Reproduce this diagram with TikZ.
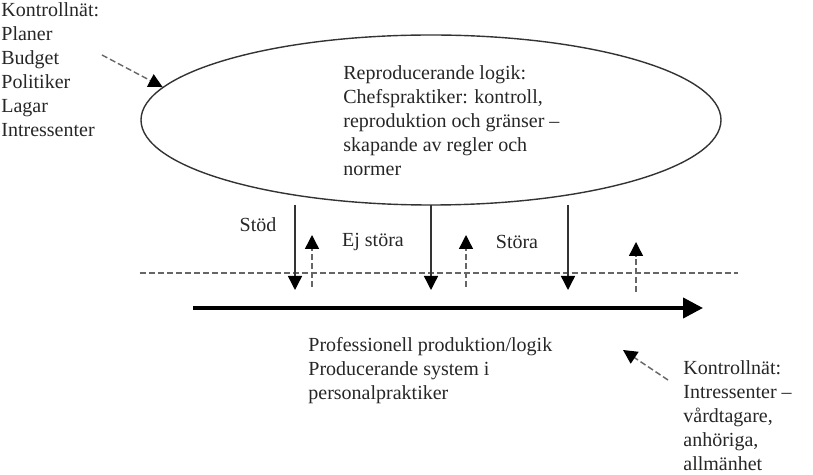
\documentclass[tikz,border=0pt]{standalone}
\usepackage{fontspec}
\setmainfont{Liberation Serif}
\usetikzlibrary{shapes.geometric,arrows.meta}
\begin{document}
\begin{tikzpicture}[x=0.5pt, y=-0.5pt, line join=round, >={Triangle[width=7pt,length=7pt,color=black]}, font=\fontsize{10}{12}\selectfont]
	\tikzset{
		ink/.style={draw=black!80, line width=0.7pt},
		dashink/.style={draw=black!60, line width=0.7pt, dash pattern=on 3pt off 1.5pt},
		textblock/.style={anchor=north west, inner sep=0pt, align=left, text=black!85},
		label/.style={inner sep=0pt, text=black!85}
	}
	\useasboundingbox (0,0) rectangle (813,475);
	
	% ellipse: reproducerande logik
	\node[ellipse, ink, minimum width=290pt, minimum height=85pt] (logic) at (431,120) {};
	\node[textblock] (logictext) at (343,65) {Reproducerande logik:\\Chefspraktiker: kontroll,\\reproduktion och gränser –\\skapande av regler och\\normer};
	
	% kontrollnät
	\node[textblock] (ctrltop) at (1,2) {Kontrollnät:\\Planer\\Budget\\Politiker\\Lagar\\Intressenter};
	\node[textblock] (ctrlbottom) at (683,360) {Kontrollnät:\\Intressenter –\\vårdtagare,\\anhöriga,\\allmänhet};
	\coordinate (ctrltopstart) at (102,55);
	\coordinate (ctrlbottomstart) at (668,380);
	\coordinate (prodtip) at (623,350);
	\draw[dashink, ->] (ctrltopstart) -- (logic.173);
	\draw[dashink, ->] (ctrlbottomstart) -- (prodtip);
	
	% gräns och produktion
	\coordinate (borderleft) at (140,273);
	\coordinate (borderright) at (738,273);
	\draw[dashink] (borderleft) -- (borderright);
	\coordinate (prodleft) at (193,308);
	\coordinate (prodright) at (703,308);
	\draw[black, line width=2pt, -{Triangle[width=10pt,length=10pt]}] (prodleft) -- (prodright);
	\node[textblock] (prodtext) at (308,337) {Professionell produktion/logik\\Producerande system i\\personalpraktiker};
	
	% pilar ned och upp
	\foreach \n/\x in {a/295, b/431, c/568} {
		\coordinate (down\n top) at (\x,205);
		\coordinate (down\n tip) at (\x,290);
		\draw[ink, ->] (down\n top) -- (down\n tip);
	}
	\foreach \n/\x/\y/\t in {a/312/287/235, b/466/287/235, c/636/292/242} {
		\coordinate (up\n foot) at (\x,\y);
		\coordinate (up\n tip) at (\x,\t);
		\draw[dashink, ->] (up\n foot) -- (up\n tip);
	}
	\node[label] (stod) at (258,225) {Stöd};
	\node[label] (ejstora) at (373,242) {Ej störa};
	\node[label] (stora) at (517,242) {Störa};
\end{tikzpicture}
\end{document}
